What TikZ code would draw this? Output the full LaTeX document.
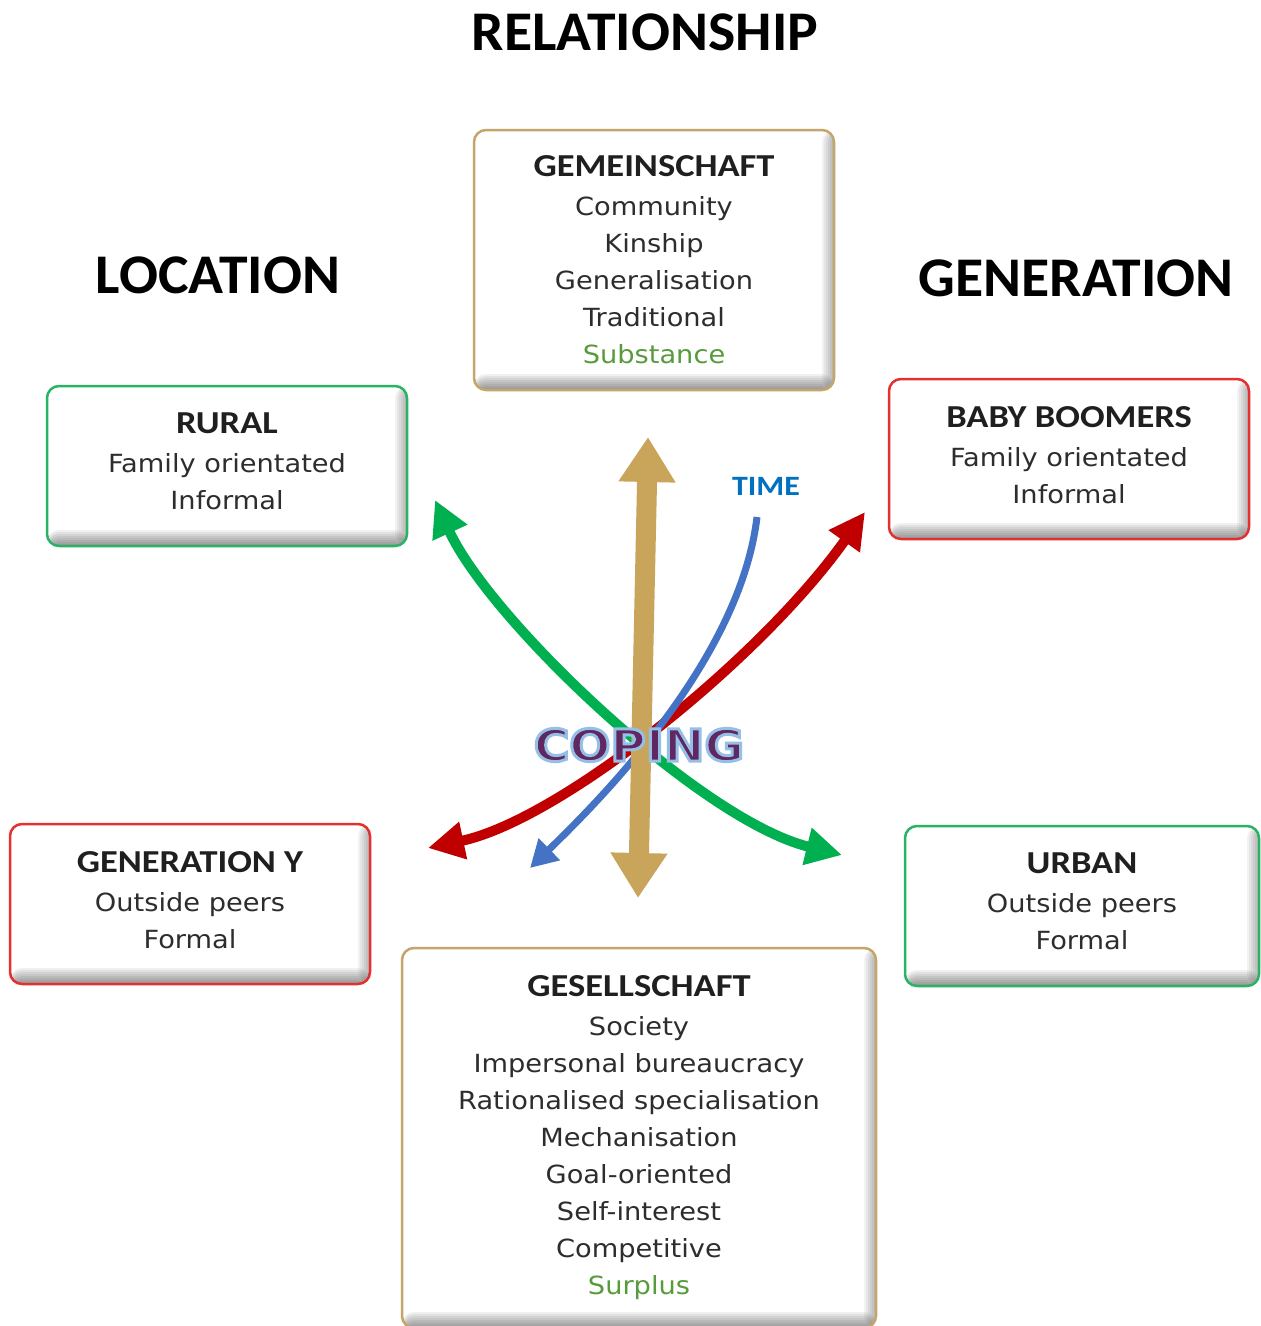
\documentclass[tikz,border=0pt]{standalone}
\usepackage{fontspec}
\usetikzlibrary{arrows.meta,calc}
\newfontfamily\bodyff{DejaVu Sans}[FakeStretch=1.09]
\newfontfamily\headff{Carlito}[FakeStretch=1.14]
\newfontfamily\titleff{Carlito}[FakeStretch=1.03]
\newfontfamily\copff{DejaVu Sans}[FakeStretch=1.1]
\newcommand\mybody{\bodyff\fontsize{25}{37}\selectfont}
\newcommand\myhead{\headff\bfseries\fontsize{32}{37}\selectfont\color{black!88}}
\newcommand\mytitle{\titleff\bfseries\fontsize{56}{60}\selectfont}
\newcommand\mytime{\headff\bfseries\fontsize{28}{30}\selectfont}
\newcommand\mycop{\copff\bfseries\fontsize{44}{48}\selectfont}
\newcommand\outlinetext[1]{\special{pdf:literal direct 2 Tr 3 w 0.59 0.75 0.91 RG}#1\special{pdf:literal direct 0 Tr 1 w}}
\definecolor{goldc}{RGB}{201,165,92}
\definecolor{goldb}{RGB}{196,166,106}
\definecolor{greenc}{RGB}{0,176,80}
\definecolor{greenb}{RGB}{40,180,100}
\definecolor{redc}{RGB}{192,0,0}
\definecolor{redb}{RGB}{228,48,48}
\definecolor{bluec}{RGB}{68,114,196}
\definecolor{txt}{RGB}{45,45,45}
\definecolor{subst}{RGB}{88,155,60}
\definecolor{timec}{RGB}{0,112,192}
\definecolor{copfill}{RGB}{96,40,96}
\tikzset{
  cbox/.style={rounded corners=12pt, draw=#1, line width=2.5pt, fill=white,
    align=center, inner sep=0pt, text=txt, font=\mybody,
    path picture={
      \foreach \i in {2,4,...,16}
        \fill[black, opacity=0.06] ([yshift=\i pt]path picture bounding box.south west) rectangle (path picture bounding box.south east);
      \foreach \i in {2,4,...,12}
        \fill[black, opacity=0.05] ([xshift=-\i pt]path picture bounding box.south east) rectangle (path picture bounding box.north east);
    }},
  smallbox/.style={cbox=#1, minimum width=360pt, minimum height=160pt, text depth=9pt},
  bigtitle/.style={font=\mytitle, text=black, inner sep=0pt},
  twohead/.style={{Triangle[width=#1,length=#1]}-{Triangle[width=#1,length=#1]}},
}
\begin{document}
\begin{tikzpicture}[x=1pt,y=-1pt]
\useasboundingbox (0,0) rectangle (1261,1326);
\fill[white] (0,0) rectangle (1261,1326);

% titles
\node[bigtitle] (rel) at (645,32) {RELATIONSHIP};
\node[bigtitle] (loc) at (218,275) {LOCATION};
\node[bigtitle] (gen) at (1076,278) {GENERATION};

% boxes
\node[cbox=goldb, minimum width=360pt, minimum height=260pt] (gem) at (654,260)
  {{\myhead GEMEINSCHAFT}\\[2pt] Community\\ Kinship\\ Generalisation\\ Traditional\\ \textcolor{subst}{Substance}};
\node[smallbox=greenb] (rural) at (227,466)
  {{\myhead RURAL}\\[2pt] Family orientated\\ Informal};
\node[smallbox=redb] (baby) at (1069,459)
  {{\myhead BABY BOOMERS}\\[2pt] Family orientated\\ Informal};
\node[smallbox=redb] (geny) at (190,904)
  {{\myhead GENERATION Y}\\[2pt] Outside peers\\ Formal};
\node[smallbox=greenb, minimum width=354pt] (urban) at (1082,906)
  {{\myhead URBAN}\\[2pt] Outside peers\\ Formal};
\node[cbox=goldb, minimum width=474pt, minimum height=380pt, text depth=6pt] (ges) at (639,1138)
  {{\myhead GESELLSCHAFT}\\[2pt] Society\\ Impersonal bureaucracy\\ Rationalised specialisation\\ Mechanisation\\ Goal-oriented\\ Self-interest\\ Competitive\\ \textcolor{subst}{Surplus}};

% arrow end points
\coordinate (gA) at (435,500);
\coordinate (gB) at (842,855);
\coordinate (rA) at (428,848);
\coordinate (rB) at (865,512);
\coordinate (bA) at (757,517);
\coordinate (bB) at (530,868);
\coordinate (tA) at (648,437);
\coordinate (tB) at (638,898);

\draw[greenc, line width=10pt, twohead=36pt] (gA) .. controls (490,620) and (700,820) .. (gB);
\draw[redc, line width=10pt, twohead=36pt] (rA) .. controls (560,820) and (760,660) .. (rB);
\draw[bluec, line width=7pt, -{Triangle[width=29pt,length=27pt]}] (bA) .. controls (740,660) and (600,800) .. (bB);
\draw[goldc, line width=20pt, {Triangle[width=54pt,length=45pt]}-{Triangle[width=54pt,length=45pt]}] (tA) -- (tB);

\node[font=\mytime, text=timec, inner sep=0pt] (time) at (766,486) {TIME};

\node[font=\mycop, text=copfill, inner sep=0pt] (cop) at (639,745) {\outlinetext{COPING}};
\end{tikzpicture}
\end{document}
